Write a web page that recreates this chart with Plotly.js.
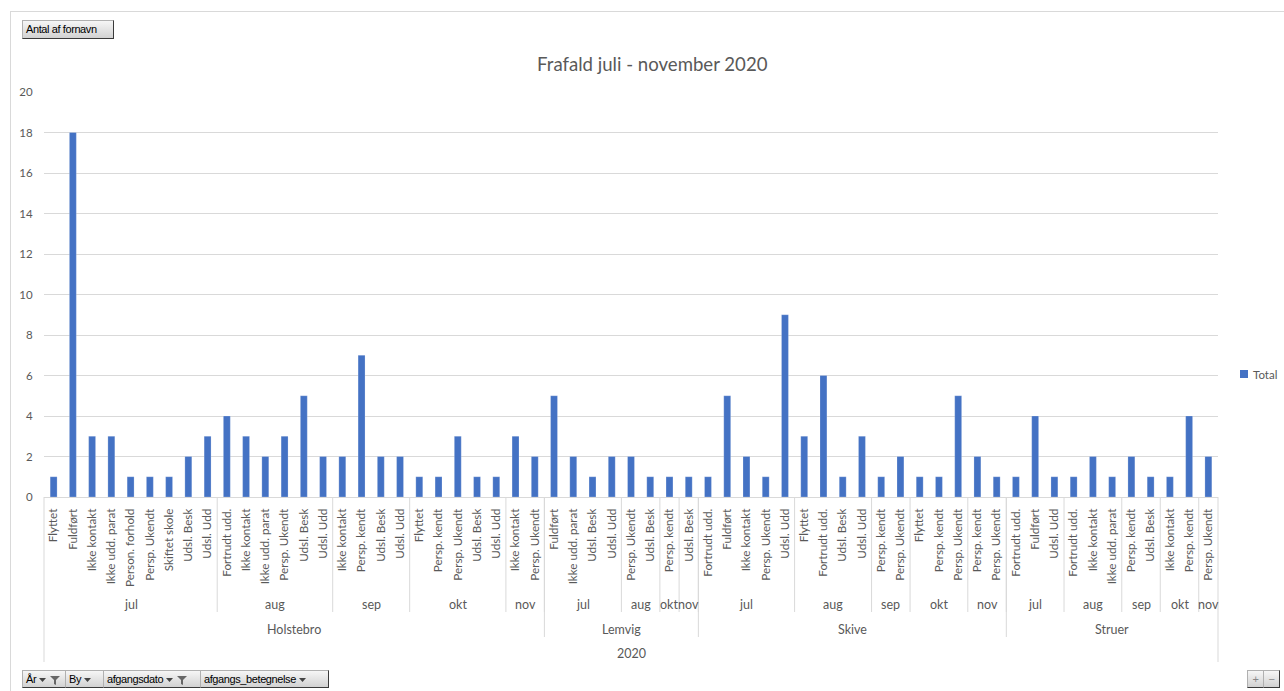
<!DOCTYPE html>
<html><head><meta charset="utf-8">
<script src="https://cdn.plot.ly/plotly-3.0.1.min.js"></script>
<style>
html,body{margin:0;padding:0;background:#fff;}
#wrap{position:relative;width:1284px;height:691px;overflow:hidden;background:#fff;}
#chart{position:absolute;left:0;top:0;width:1284px;height:691px;}
#frame{position:absolute;left:10px;top:11px;width:1290px;height:700px;border:1px solid #d9d9d9;pointer-events:none;}
.btn{position:absolute;height:18px;box-sizing:border-box;font:11px "Liberation Sans",Arial,sans-serif;color:#000;background:linear-gradient(#f6f6f6,#d2d2d2);border:1px solid #b0b0b0;border-right-color:#3a3a3a;border-bottom-color:#3a3a3a;line-height:16px;padding:0 3px;white-space:nowrap;letter-spacing:-0.4px;overflow:hidden;}
.btn svg{vertical-align:middle;margin-left:3px;}
</style></head>
<body><div id="wrap"><div id="chart"></div><div id="frame"></div>
<div class="btn" style="left:22px;top:20px;width:92px;height:19px;line-height:17px;">Antal af fornavn</div>
<div class="btn" style="left:22px;top:670px;width:44px;">År<svg width="8" height="6"><path d="M0 1 L7 1 L3.5 5 Z" fill="#444"/></svg><svg width="10" height="10"><path d="M0 1 L10 1 L6 5 L6 10 L4 9 L4 5 Z" fill="#666"/></svg></div>
<div class="btn" style="left:65px;top:670px;width:39px;">By<svg width="8" height="6"><path d="M0 1 L7 1 L3.5 5 Z" fill="#444"/></svg></div>
<div class="btn" style="left:103px;top:670px;width:98px;">afgangsdato<svg width="8" height="6"><path d="M0 1 L7 1 L3.5 5 Z" fill="#444"/></svg><svg width="10" height="10"><path d="M0 1 L10 1 L6 5 L6 10 L4 9 L4 5 Z" fill="#666"/></svg></div>
<div class="btn" style="left:200px;top:670px;width:129px;">afgangs_betegnelse<svg width="8" height="6"><path d="M0 1 L7 1 L3.5 5 Z" fill="#444"/></svg></div>
<div class="btn" style="left:1247px;top:670px;width:17px;text-align:center;padding:0;color:#888;">+</div>
<div class="btn" style="left:1263px;top:670px;width:17px;text-align:center;padding:0;color:#888;">−</div>
</div>
<script>
const years = ['2020'];
const seriesName = 'Total';
const cities = [
 'Holstebro','Holstebro','Holstebro','Holstebro','Holstebro','Holstebro','Holstebro','Holstebro','Holstebro',
 'Holstebro','Holstebro','Holstebro','Holstebro','Holstebro','Holstebro',
 'Holstebro','Holstebro','Holstebro','Holstebro',
 'Holstebro','Holstebro','Holstebro','Holstebro','Holstebro',
 'Holstebro','Holstebro',
 'Lemvig','Lemvig','Lemvig','Lemvig','Lemvig','Lemvig','Lemvig','Lemvig',
 'Skive','Skive','Skive','Skive','Skive','Skive','Skive','Skive','Skive','Skive','Skive','Skive','Skive','Skive','Skive','Skive',
 'Struer','Struer','Struer','Struer','Struer','Struer','Struer','Struer','Struer','Struer','Struer'
];
const months = [
 'jul','jul','jul','jul','jul','jul','jul','jul','jul',
 'aug','aug','aug','aug','aug','aug',
 'sep','sep','sep','sep',
 'okt','okt','okt','okt','okt',
 'nov','nov',
 'jul','jul','jul','jul','aug','aug','okt','nov',
 'jul','jul','jul','jul','jul','aug','aug','aug','aug','sep','sep','okt','okt','okt','nov','nov',
 'jul','jul','jul','aug','aug','aug','sep','sep','okt','okt','nov'
];
const reasons = [
 'Flyttet','Fuldført','Ikke kontakt','Ikke udd. parat','Person. forhold','Persp. Ukendt','Skiftet skole','Udsl. Besk','Udsl. Udd',
 'Fortrudt udd.','Ikke kontakt','Ikke udd. parat','Persp. Ukendt','Udsl. Besk','Udsl. Udd',
 'Ikke kontakt','Persp. kendt','Udsl. Besk','Udsl. Udd',
 'Flyttet','Persp. kendt','Persp. Ukendt','Udsl. Besk','Udsl. Udd',
 'Ikke kontakt','Persp. Ukendt',
 'Fuldført','Ikke udd. parat','Udsl. Besk','Udsl. Udd','Persp. Ukendt','Udsl. Besk','Persp. kendt','Udsl. Besk',
 'Fortrudt udd.','Fuldført','Ikke kontakt','Persp. Ukendt','Udsl. Udd','Flyttet','Fortrudt udd.','Udsl. Besk','Udsl. Udd',
 'Persp. kendt','Persp. Ukendt','Flyttet','Persp. kendt','Persp. Ukendt','Persp. kendt','Persp. Ukendt',
 'Fortrudt udd.','Fuldført','Udsl. Udd','Fortrudt udd.','Ikke kontakt','Ikke udd. parat','Persp. kendt','Udsl. Besk',
 'Ikke kontakt','Persp. kendt','Persp. Ukendt'
];
const totals = [
 1,18,3,3,1,1,1,2,3,
 4,3,2,3,5,2,
 2,7,2,2,
 1,1,3,1,1,
 3,2,
 5,2,1,2,2,1,1,1,
 1,5,2,1,9,3,6,1,3,1,2,1,1,5,2,1,
 1,4,1,1,2,1,2,1,1,4,2
];
const yTicks = [0,2,4,6,8,10,12,14,16,18,20];

const idx = reasons.map((_, i) => i);
const N = reasons.length;
const font = 'Lato, "Open Sans", sans-serif';
const grey = '#595959';
const barColor = '#4472C4';

function runs(keyFn) {
  const out = [];
  let start = 0;
  for (let i = 1; i <= N; i++) {
    if (i === N || keyFn(i) !== keyFn(start)) {
      out.push({start: start, end: i - 1});
      start = i;
    }
  }
  return out;
}
const monthRuns = runs(i => cities[i] + '|' + months[i]);
const cityRuns = runs(i => cities[i]);

// plot area geometry (pixels) to express offsets in paper units
const plotL = 44, plotR = 1218, plotT = 92, plotB = 497;
const plotW = plotR - plotL, plotH = plotB - plotT;
const py = px => -px / plotH;          // px below the x axis
const pxX = px => (px - plotL) / plotW; // absolute px -> paper x
const pxY = px => (plotB - px) / plotH; // absolute px -> paper y

const annotations = [];
const shapes = [];
monthRuns.forEach(r => {
  annotations.push({xref:'x', yref:'paper', x:(r.start + r.end) / 2, y:py(107), text:months[r.start],
    showarrow:false, font:{family:font, size:12.5, color:grey}, yanchor:'middle'});
  if (r.start > 0) shapes.push({type:'line', xref:'x', yref:'paper', x0:r.start - 0.5, x1:r.start - 0.5,
    y0:0, y1:py(115), line:{color:'#d9d9d9', width:1}});
});
cityRuns.forEach(r => {
  annotations.push({xref:'x', yref:'paper', x:(r.start + r.end) / 2, y:py(132), text:cities[r.start],
    showarrow:false, font:{family:font, size:12.5, color:grey}, yanchor:'middle'});
  if (r.start > 0) shapes.push({type:'line', xref:'x', yref:'paper', x0:r.start - 0.5, x1:r.start - 0.5,
    y0:0, y1:py(140), line:{color:'#d9d9d9', width:1}});
});
annotations.push({xref:'x', yref:'paper', x:(N - 1) / 2, y:py(156), text:years[0],
  showarrow:false, font:{family:font, size:12.5, color:grey}, yanchor:'middle'});
shapes.push({type:'line', xref:'paper', yref:'paper', x0:0, x1:0, y0:0, y1:py(165), line:{color:'#d9d9d9', width:1}});
shapes.push({type:'line', xref:'paper', yref:'paper', x0:1, x1:1, y0:0, y1:py(165), line:{color:'#d9d9d9', width:1}});

// legend (Excel style: small square with close label)
shapes.push({type:'rect', xref:'paper', yref:'paper', x0:pxX(1240), x1:pxX(1248), y0:pxY(378), y1:pxY(370),
  fillcolor:barColor, line:{width:0}});
annotations.push({xref:'paper', yref:'paper', x:pxX(1251), y:pxY(374), xanchor:'left', yanchor:'middle',
  text:seriesName, showarrow:false, font:{family:font, size:11.5, color:grey}});

const trace = {
  type:'bar', x:idx, y:totals, name:seriesName, width:0.36,
  marker:{color:barColor, line:{color:'rgba(255,255,255,0.35)', width:0.6}},
  hovertemplate:'%{y}<extra></extra>'
};

const layout = {
  width:1284, height:691,
  margin:{l:plotL, r:1284 - plotR, t:plotT, b:691 - plotB, autoexpand:false},
  paper_bgcolor:'rgba(0,0,0,0)', plot_bgcolor:'rgba(0,0,0,0)',
  font:{family:font, color:grey},
  title:{text:'Frafald juli - november 2020', font:{family:font, size:18.6, color:grey},
    xref:'container', x:0.508, xanchor:'center', yref:'container', y:1 - 64/691, yanchor:'middle'},
  showlegend:false,
  xaxis:{range:[-0.5, N - 0.5], tickmode:'array', tickvals:idx, ticktext:reasons, tickangle:-90,
    tickfont:{family:font, size:11.7, color:grey}, ticks:'outside', ticklen:6, tickcolor:'rgba(0,0,0,0)',
    showgrid:false, showline:true, linecolor:'#d9d9d9', linewidth:1, zeroline:false, fixedrange:true},
  yaxis:{range:[0,20], tickmode:'array', tickvals:yTicks, tickfont:{family:font, size:11.5, color:grey},
    ticks:'outside', ticklen:8, tickcolor:'rgba(0,0,0,0)', gridcolor:'#d9d9d9', gridwidth:1,
    showline:false, zeroline:false, fixedrange:true},
  annotations:annotations, shapes:shapes
};
Plotly.newPlot('chart', [trace], layout, {displayModeBar:false, staticPlot:true});
</script></body></html>
